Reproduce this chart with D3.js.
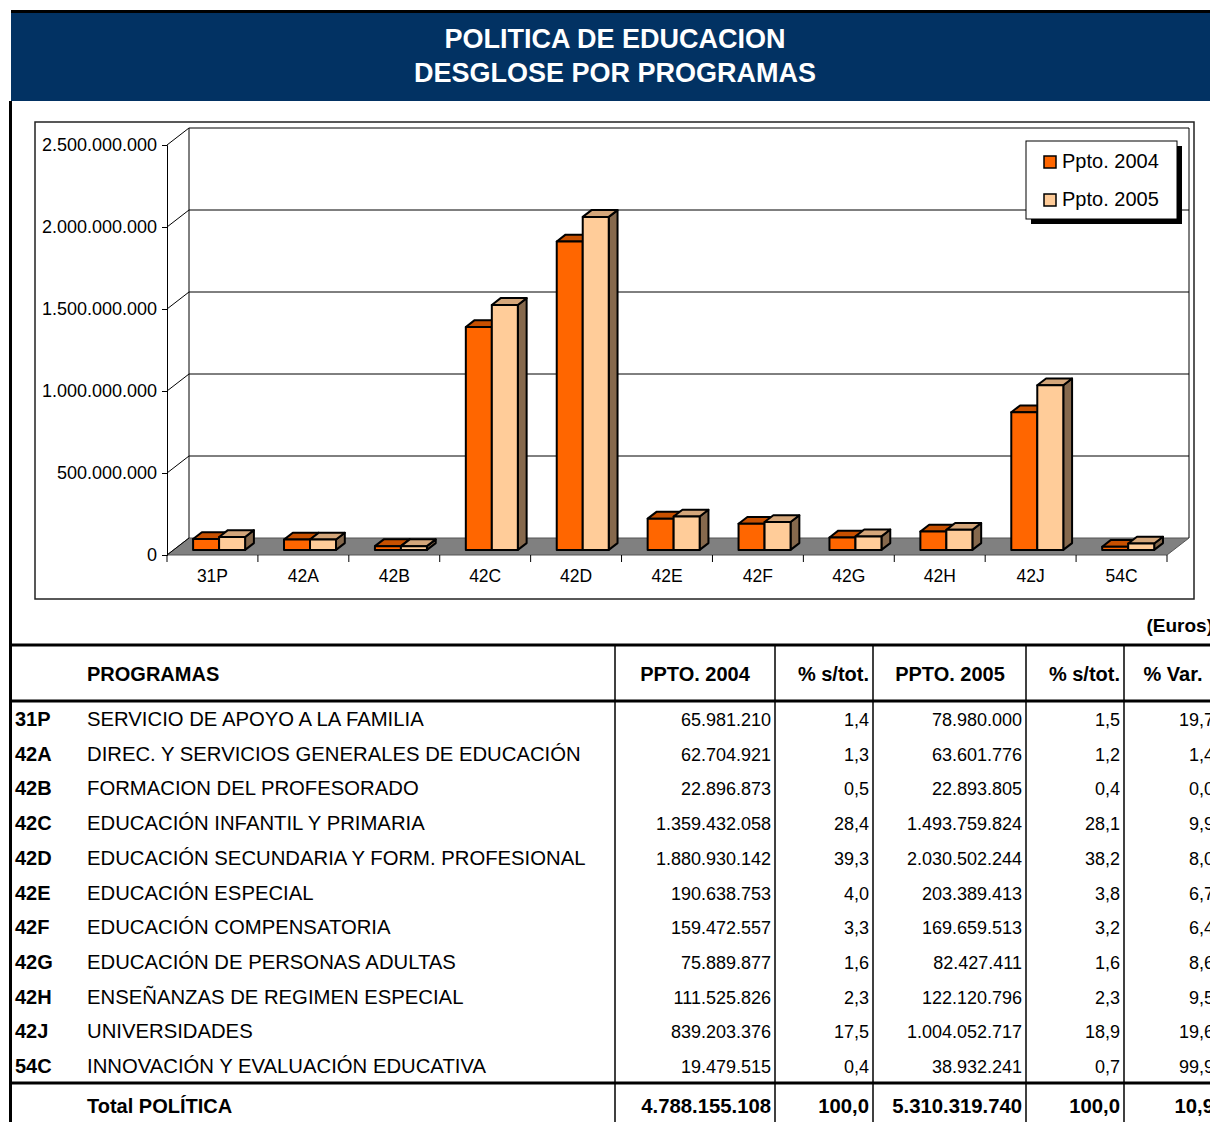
<!DOCTYPE html>
<html>
<head>
  <meta charset="utf-8">
  <title>Politica de Educacion</title>
  <style>
    body { margin: 0; background: #fff; }
    svg { display: block; font-family: "Liberation Sans", Arial, sans-serif; }
    .grid { stroke: #000; stroke-width: 1; fill: none; }
    .bar path { stroke: #000; stroke-width: 2; stroke-linejoin: round; }
    .num { font-size: 18px; text-anchor: end; }
  </style>
  <script src="https://d3js.org/d3.v7.min.js"></script>
</head>
<body>
  <div id="chart"></div>
  <script>
    // data
    const cats = ["31P", "42A", "42B", "42C", "42D", "42E", "42F", "42G", "42H", "42J", "54C"];
    const names = [
      "SERVICIO DE APOYO A LA FAMILIA",
      "DIREC. Y SERVICIOS GENERALES DE EDUCACIÓN",
      "FORMACION DEL PROFESORADO",
      "EDUCACIÓN INFANTIL Y PRIMARIA",
      "EDUCACIÓN SECUNDARIA Y FORM. PROFESIONAL",
      "EDUCACIÓN ESPECIAL",
      "EDUCACIÓN COMPENSATORIA",
      "EDUCACIÓN DE PERSONAS ADULTAS",
      "ENSEÑANZAS DE REGIMEN ESPECIAL",
      "UNIVERSIDADES",
      "INNOVACIÓN Y EVALUACIÓN EDUCATIVA"
    ];
    const series = ["Ppto. 2004", "Ppto. 2005"];
    const ppto2004 = [65981210, 62704921, 22896873, 1359432058, 1880930142, 190638753, 159472557, 75889877, 111525826, 839203376, 19479515];
    const ppto2005 = [78980000, 63601776, 22893805, 1493759824, 2030502244, 203389413, 169659513, 82427411, 122120796, 1004052717, 38932241];
    const pct2004 = [1.4, 1.3, 0.5, 28.4, 39.3, 4.0, 3.3, 1.6, 2.3, 17.5, 0.4];
    const pct2005 = [1.5, 1.2, 0.4, 28.1, 38.2, 3.8, 3.2, 1.6, 2.3, 18.9, 0.7];
    const pctVar = [19.7, 1.4, 0.0, 9.9, 8.0, 6.7, 6.4, 8.6, 9.5, 19.6, 99.9];
    const totals = [4788155108, 100.0, 5310319740, 100.0, 10.9];
    const yTicks = [0, 500000000, 1000000000, 1500000000, 2000000000, 2500000000];
    const headers = ["PPTO. 2004", "% s/tot.", "PPTO. 2005", "% s/tot.", "% Var."];

    const W = 1210, H = 1122;
    const colors = ["#ff6600", "#ffcc99"];
    const topColors = ["#c85000", "#d4a67a"];
    const sideColors = ["#a04000", "#86694d"];

    const es = d3.formatLocale({ decimal: ",", thousands: ".", grouping: [3], currency: ["", "€"] });
    const fmtInt = es.format(",d");
    const fmtPct = es.format(",.1f");

    const svg = d3.select("#chart").append("svg")
      .attr("width", W).attr("height", H);

    // banner
    svg.append("rect").attr("x", 11).attr("y", 10).attr("width", W - 11).attr("height", 3).attr("fill", "#000");
    svg.append("rect").attr("x", 11).attr("y", 13).attr("width", W - 11).attr("height", 88).attr("fill", "#023263");
    svg.append("rect").attr("x", 9).attr("y", 101).attr("width", 3).attr("height", H - 101).attr("fill", "#000");
    svg.selectAll(".title").data(["POLITICA DE EDUCACION", "DESGLOSE POR PROGRAMAS"]).enter()
      .append("text")
      .attr("x", 615).attr("y", (d, i) => 48 + i * 34)
      .attr("text-anchor", "middle").attr("fill", "#fff")
      .attr("font-size", 27).attr("font-weight", "bold")
      .text(d => d);

    // chart frame
    svg.append("rect").attr("x", 35).attr("y", 122).attr("width", 1159).attr("height", 477)
      .attr("fill", "none").attr("stroke", "#222").attr("stroke-width", 1.5);

    const x = d3.scaleBand().domain(cats).range([167, 1167]);
    const sub = d3.scaleBand().domain(series).range([19.5, 71.5]);
    const y = d3.scaleLinear().domain([0, 2500000000]).range([555, 145]);
    const dx = 22, dy = -17;

    const chart = svg.append("g");

    // floor
    chart.append("path")
      .attr("d", `M${x.range()[0]},${y(0)}L${x.range()[1]},${y(0)}L${x.range()[1] + dx},${y(0) + dy}L${x.range()[0] + dx},${y(0) + dy}Z`)
      .attr("fill", "#808080").attr("stroke", "#555").attr("stroke-width", 1);

    // walls and gridlines
    yTicks.forEach(t => {
      if (t > 0) {
        chart.append("line").attr("class", "grid")
          .attr("x1", x.range()[0] + dx).attr("x2", x.range()[1] + dx)
          .attr("y1", y(t) + dy).attr("y2", y(t) + dy);
      }
      chart.append("line").attr("class", "grid")
        .attr("x1", x.range()[0]).attr("x2", x.range()[0] + dx)
        .attr("y1", y(t)).attr("y2", y(t) + dy);
    });
    chart.append("line").attr("class", "grid")
      .attr("x1", x.range()[0] + dx).attr("x2", x.range()[0] + dx)
      .attr("y1", y(2500000000) + dy).attr("y2", y(0) + dy);
    chart.append("line").attr("class", "grid")
      .attr("x1", x.range()[1] + dx).attr("x2", x.range()[1] + dx)
      .attr("y1", y(2500000000) + dy).attr("y2", y(0) + dy);

    // y axis
    const yAxis = chart.append("g").attr("transform", `translate(${x.range()[0]},0)`)
      .call(d3.axisLeft(y).tickValues(yTicks).tickSize(5).tickPadding(5).tickFormat(d => fmtInt(d)));
    yAxis.select(".domain").attr("stroke", "#000");
    yAxis.selectAll("text").attr("font-size", 18).attr("font-family", "Liberation Sans, Arial, sans-serif").attr("fill", "#000");

    // x axis
    const xAxis = chart.append("g").attr("transform", `translate(0,${y(0)})`)
      .call(d3.axisBottom(x).tickSize(0).tickPadding(15));
    xAxis.select(".domain").remove();
    xAxis.selectAll("text").attr("font-size", 17.5).attr("font-family", "Liberation Sans, Arial, sans-serif").attr("fill", "#000");
    chart.append("g").selectAll("line")
      .data(d3.range(cats.length + 1)).enter().append("line")
      .attr("x1", i => x.range()[0] + i * x.bandwidth())
      .attr("x2", i => x.range()[0] + i * x.bandwidth())
      .attr("y1", y(0)).attr("y2", y(0) + 7)
      .attr("stroke", "#000");

    // 3D bars
    const fx = dx * 0.3, fy = dy * 0.3;
    const bx = dx * 0.4, by = dy * 0.4;
    const barData = [];
    cats.forEach((c, i) => {
      [ppto2004[i], ppto2005[i]].forEach((v, s) => barData.push({ c, s, v }));
    });
    const bars = chart.append("g").selectAll("g").data(barData).enter()
      .append("g").attr("class", "bar");
    const x0 = d => x(d.c) + sub(series[d.s]) + fx;
    const x1 = d => x0(d) + sub.bandwidth();
    const yb = d => y(0) + fy;
    const yt = d => y(d.v) + fy;
    bars.append("path")
      .attr("d", d => `M${x1(d)},${yb(d)}L${x1(d) + bx},${yb(d) + by}L${x1(d) + bx},${yt(d) + by}L${x1(d)},${yt(d)}Z`)
      .attr("fill", d => sideColors[d.s]);
    bars.append("path")
      .attr("d", d => `M${x0(d)},${yt(d)}L${x1(d)},${yt(d)}L${x1(d) + bx},${yt(d) + by}L${x0(d) + bx},${yt(d) + by}Z`)
      .attr("fill", d => topColors[d.s]);
    bars.append("path")
      .attr("d", d => `M${x0(d)},${yb(d)}L${x1(d)},${yb(d)}L${x1(d)},${yt(d)}L${x0(d)},${yt(d)}Z`)
      .attr("fill", d => colors[d.s]);

    // legend
    const leg = svg.append("g").attr("transform", "translate(1026,141)");
    leg.append("rect").attr("x", 5).attr("y", 5).attr("width", 151).attr("height", 78).attr("fill", "#000");
    leg.append("rect").attr("width", 151).attr("height", 78).attr("fill", "#fff").attr("stroke", "#000");
    series.forEach((s, i) => {
      leg.append("rect").attr("x", 18).attr("y", 15 + i * 38).attr("width", 12).attr("height", 12)
        .attr("fill", colors[i]).attr("stroke", "#000").attr("stroke-width", 1.5);
      leg.append("text").attr("x", 36).attr("y", 27 + i * 38).attr("font-size", 20).text(s);
    });

    // table
    svg.append("text").attr("x", 1213).attr("y", 632).attr("text-anchor", "end")
      .attr("font-size", 19).attr("font-weight", "bold").text("(Euros)");

    const colX = [615, 775, 873, 1026, 1124];
    const rowY = d3.scaleLinear().domain([0, cats.length - 1]).range([726, 1073]);
    const table = svg.append("g");
    [645, 701, 1083].forEach(yy => {
      table.append("rect").attr("x", 11).attr("y", yy - 1.5).attr("width", W - 11).attr("height", 3).attr("fill", "#000");
    });
    colX.forEach(cx => {
      table.append("line").attr("x1", cx).attr("x2", cx).attr("y1", 646).attr("y2", H)
        .attr("stroke", "#000").attr("stroke-width", 1.5);
    });

    // header
    table.append("text").attr("x", 87).attr("y", 681).attr("font-size", 20).attr("font-weight", "bold").text("PROGRAMAS");
    const headX = [695, 869, 950, 1120, 1173];
    const headAnchor = ["middle", "end", "middle", "end", "middle"];
    headers.forEach((h, i) => {
      table.append("text").attr("x", headX[i]).attr("y", 681).attr("text-anchor", headAnchor[i])
        .attr("font-size", 20).attr("font-weight", "bold").text(h);
    });

    // rows
    const numX = [771, 869, 1022, 1120, 1214];
    const rows = table.selectAll(".row").data(cats).enter().append("g").attr("class", "row")
      .attr("transform", (d, i) => `translate(0,${rowY(i)})`);
    rows.append("text").attr("x", 15).attr("font-size", 20).attr("font-weight", "bold").text(d => d);
    rows.append("text").attr("x", 87).attr("font-size", 20.3).text((d, i) => names[i]);
    rows.append("text").attr("class", "num").attr("x", numX[0]).text((d, i) => fmtInt(ppto2004[i]));
    rows.append("text").attr("class", "num").attr("x", numX[1]).text((d, i) => fmtPct(pct2004[i]));
    rows.append("text").attr("class", "num").attr("x", numX[2]).text((d, i) => fmtInt(ppto2005[i]));
    rows.append("text").attr("class", "num").attr("x", numX[3]).text((d, i) => fmtPct(pct2005[i]));
    rows.append("text").attr("class", "num").attr("x", numX[4]).text((d, i) => fmtPct(pctVar[i]));

    // total row
    table.append("text").attr("x", 87).attr("y", 1113).attr("font-size", 20).attr("font-weight", "bold").text("Total POLÍTICA");
    totals.forEach((v, i) => {
      table.append("text").attr("x", numX[i]).attr("y", 1113).attr("text-anchor", "end")
        .attr("font-size", 20.3).attr("font-weight", "bold")
        .text(i % 2 === 0 && i < 4 ? fmtInt(v) : fmtPct(v));
    });
  </script>
</body>
</html>
